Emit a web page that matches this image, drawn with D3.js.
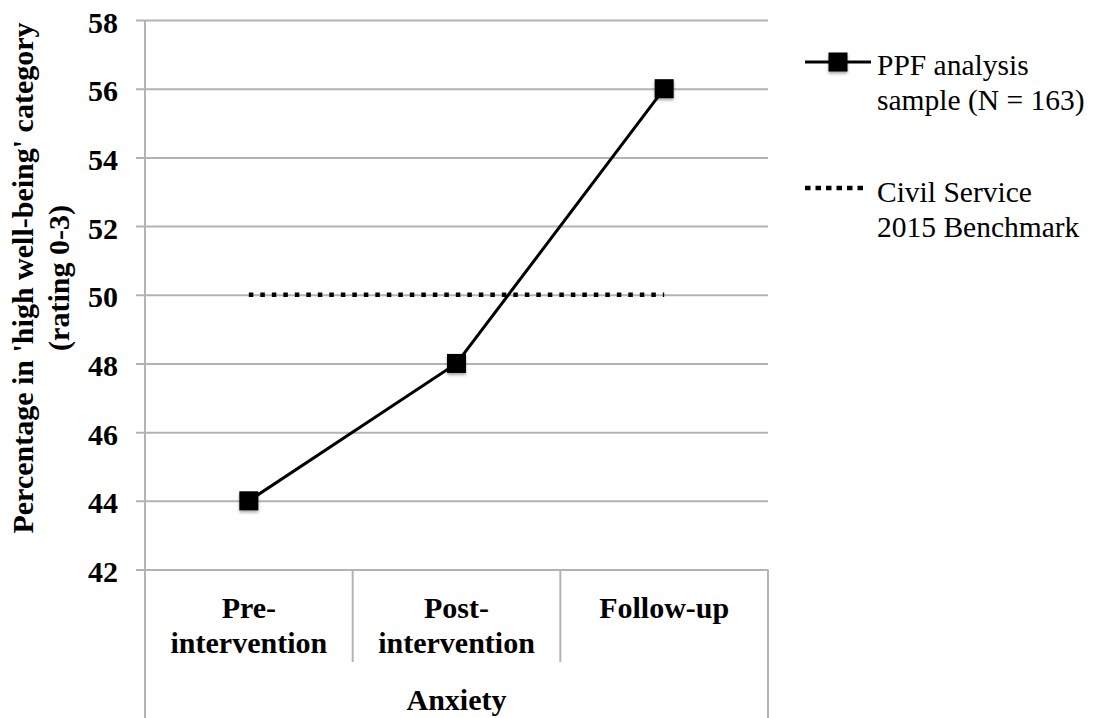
<!DOCTYPE html>
<html>
<head>
<meta charset="utf-8">
<script src="https://cdn.jsdelivr.net/npm/d3@7/dist/d3.min.js"></script>
<style>
  html, body { margin: 0; padding: 0; background: #fff; }
  svg { display: block; }
  text { font-family: "Liberation Serif", "Times New Roman", serif; fill: #000; }
</style>
</head>
<body>
<svg id="chart" width="1098" height="718"></svg>
<script>
// Category labels (split into display lines) and the group label beneath them
const categories = ["Pre-intervention", "Post-intervention", "Follow-up"];
const categoryLines = [["Pre-", "intervention"], ["Post-", "intervention"], ["Follow-up"]];
const groupLabel = "Anxiety";

// Series values
const ppfValues = [44, 48, 56];
const benchmarkValues = [50, 50, 50];

// Axis ticks
const yTicks = [42, 44, 46, 48, 50, 52, 54, 56, 58];

const legendLabels = [["PPF analysis", "sample (N = 163)"], ["Civil Service", "2015 Benchmark"]];
const yTitleLines = ["Percentage in 'high well-being' category", "(rating 0-3)"];

(function () {
  const svg = d3.select("#chart");
  const W = 1098, H = 718;
  const plotLeft = 145, plotRight = 768, plotTop = 20, plotBottom = 569.5;
  const grid = "#b3b3b3";

  const x = d3.scaleBand().domain(categories).range([plotLeft, plotRight]).paddingInner(0).paddingOuter(0);
  const y = d3.scaleLinear().domain([42, 58]).range([plotBottom, plotTop]);
  const cx = d => x(d) + x.bandwidth() / 2;

  // Horizontal gridlines with left tick marks
  const yAxis = d3.axisLeft(y).tickValues(yTicks).tickSize(-(plotRight - plotLeft)).tickPadding(0).tickFormat("");
  const gY = svg.append("g").attr("transform", `translate(${plotLeft},0)`).call(yAxis);
  gY.select(".domain").remove();
  gY.selectAll(".tick line").attr("stroke", grid).attr("stroke-width", 2).attr("x1", -9);

  // Tick labels
  svg.append("g").selectAll("text").data(yTicks).join("text")
    .attr("x", 118).attr("y", d => y(d) + 12.5)
    .attr("text-anchor", "end")
    .style("font-size", "30px").style("font-weight", "bold")
    .text(d => d);

  // Vertical axis line, runs down through the category area
  svg.append("line").attr("x1", plotLeft).attr("x2", plotLeft).attr("y1", plotTop).attr("y2", H)
    .attr("stroke", grid).attr("stroke-width", 2);
  // Right border of category table
  svg.append("line").attr("x1", plotRight).attr("x2", plotRight).attr("y1", plotBottom).attr("y2", H)
    .attr("stroke", grid).attr("stroke-width", 2);
  // Separators between categories
  svg.append("g").selectAll("line").data(categories.slice(1)).join("line")
    .attr("x1", d => x(d)).attr("x2", d => x(d))
    .attr("y1", plotBottom).attr("y2", 662)
    .attr("stroke", grid).attr("stroke-width", 2);

  // Category labels
  categories.forEach((c, i) => {
    const t = svg.append("text").attr("x", cx(c)).attr("y", 618)
      .attr("text-anchor", "middle")
      .style("font-size", "30px").style("font-weight", "bold");
    categoryLines[i].forEach((ln, j) => {
      t.append("tspan").attr("x", cx(c)).attr("dy", j === 0 ? 0 : 35).text(ln);
    });
  });
  svg.append("text").attr("x", (plotLeft + plotRight) / 2).attr("y", 710)
    .attr("text-anchor", "middle")
    .style("font-size", "30px").style("font-weight", "bold")
    .text(groupLabel);

  // Y axis title
  const yt = svg.append("text")
    .attr("transform", "translate(33,278) rotate(-90)")
    .attr("text-anchor", "middle")
    .style("font-size", "30px").style("font-weight", "bold");
  yTitleLines.forEach((ln, j) => {
    yt.append("tspan").attr("x", 0).attr("y", j * 36).text(ln);
  });

  // Benchmark dotted line
  const line = d3.line().x((d, i) => cx(categories[i])).y(d => y(d));
  svg.append("path").datum(benchmarkValues)
    .attr("d", line).attr("fill", "none")
    .attr("stroke", "#000").attr("stroke-width", 4.5)
    .attr("stroke-dasharray", "4.5,7");

  // Shadow filter for markers
  const defs = svg.append("defs");
  const f = defs.append("filter").attr("id", "shadow").attr("x", "-50%").attr("y", "-50%").attr("width", "200%").attr("height", "200%");
  f.append("feDropShadow").attr("dx", 0).attr("dy", 2).attr("stdDeviation", 1.5).attr("flood-color", "#000").attr("flood-opacity", 0.35);

  // PPF series line and square markers
  svg.append("path").datum(ppfValues)
    .attr("d", line).attr("fill", "none")
    .attr("stroke", "#000").attr("stroke-width", 3);
  const ms = 19;
  svg.append("g").selectAll("rect").data(ppfValues).join("rect")
    .attr("x", (d, i) => cx(categories[i]) - ms / 2)
    .attr("y", d => y(d) - ms / 2)
    .attr("width", ms).attr("height", ms)
    .attr("fill", "#000").attr("filter", "url(#shadow)");

  // Legend
  const lg = svg.append("g");
  lg.append("line").attr("x1", 805).attr("x2", 871).attr("y1", 62).attr("y2", 62)
    .attr("stroke", "#000").attr("stroke-width", 3);
  lg.append("rect").attr("x", 838 - ms / 2).attr("y", 62 - ms / 2).attr("width", ms).attr("height", ms)
    .attr("fill", "#000").attr("filter", "url(#shadow)");
  lg.append("line").attr("x1", 805).attr("x2", 864).attr("y1", 188).attr("y2", 188)
    .attr("stroke", "#000").attr("stroke-width", 4.5).attr("stroke-dasharray", "5.5,5");

  const legendY = [75, 201.7];
  legendLabels.forEach((lines, i) => {
    const t = lg.append("text").attr("x", 877).attr("y", legendY[i]).style("font-size", "29.5px");
    lines.forEach((ln, j) => t.append("tspan").attr("x", 877).attr("dy", j === 0 ? 0 : 35).text(ln));
  });
})();
</script>
</body>
</html>
